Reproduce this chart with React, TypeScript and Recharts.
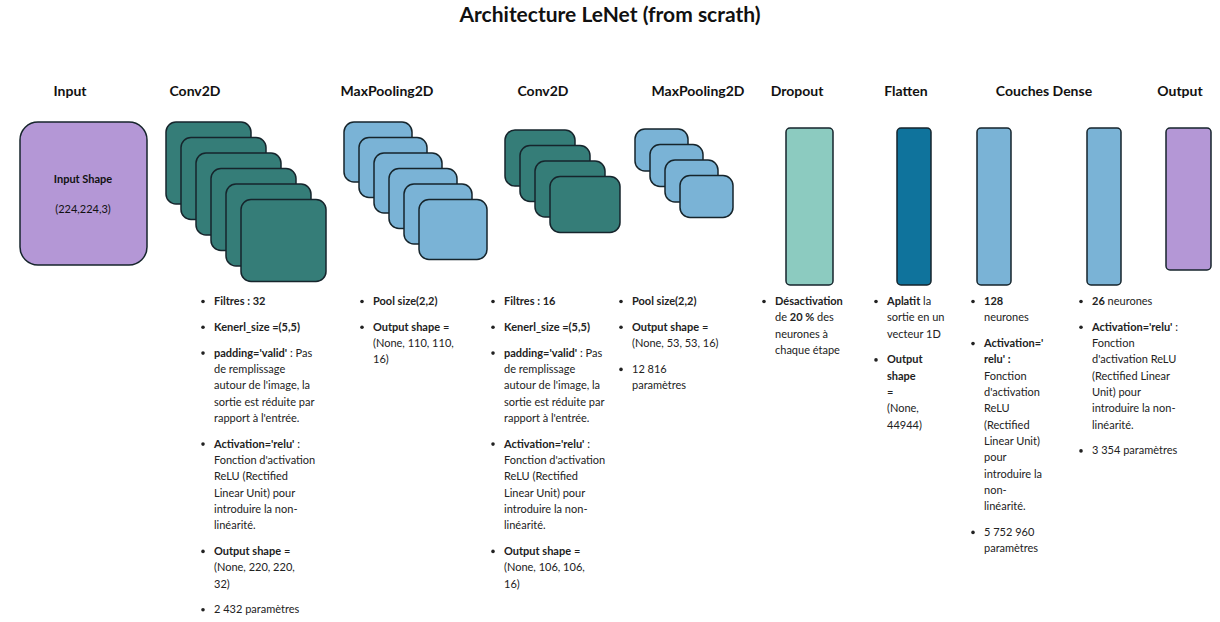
import React from 'react'
import { ComposedChart, Scatter, XAxis, YAxis } from 'recharts'

const W = 1220
const H = 622
const FONT = 'Lato, "Open Sans", sans-serif'

// layers of the network
const HEADERS = ['Input', 'Conv2D', 'MaxPooling2D', 'Conv2D', 'MaxPooling2D', 'Dropout', 'Flatten', 'Couches Dense', 'Output']
const HEADER_X = [70, 195, 387, 543, 698, 797, 906, 1044, 1180]

// stacked feature maps: [left, top, width, height, count, colour]
const STACKS: [number, number, number, number, number, string][] = [
  [166, 122, 85, 82, 6, '#357d78'],
  [344, 122, 68, 60, 6, '#7ab3d6'],
  [505, 130, 70, 56, 4, '#357d78'],
  [635, 129, 53, 42, 4, '#7ab3d6'],
]
// single blocks: [left, top, right, bottom, colour, radius]
const BLOCKS: [number, number, number, number, string, number][] = [
  [20, 122, 147, 265, '#b497d6', 18],
  [786, 128, 833, 285, '#8ccbc0', 4],
  [897, 128, 931, 285, '#0f739c', 4],
  [977, 128, 1011, 285, '#7ab3d6', 4],
  [1087, 128, 1121, 285, '#7ab3d6', 4],
  [1166, 128, 1211, 270, '#b497d6', 4],
]

// input block labels
const INPUT_TEXT = ['**Input Shape**', '(224,224,3)']

// description columns: text x, then paragraphs of lines (** marks bold)
const COLUMNS: { x: number; paras: string[][] }[] = [
  { x: 214, paras: [
    ['**Filtres : 32**'],
    ['**Kenerl_size =(5,5)**'],
    ["**padding='valid'** : Pas", 'de remplissage', "autour de l'image, la", 'sortie est réduite par', "rapport à l'entrée."],
    ["**Activation='relu'** :", "Fonction d'activation", 'ReLU (Rectified', 'Linear Unit) pour', 'introduire la non-', 'linéarité.'],
    ['**Output shape** =', '(None, 220, 220,', '32)'],
    ['2 432 paramètres'],
  ] },
  { x: 373, paras: [
    ['**Pool size(2,2)**'],
    ['**Output shape** =', '(None, 110, 110,', '16)'],
  ] },
  { x: 504, paras: [
    ['**Filtres : 16**'],
    ['**Kenerl_size =(5,5)**'],
    ["**padding='valid'** : Pas", 'de remplissage', "autour de l'image, la", 'sortie est réduite par', "rapport à l'entrée."],
    ["**Activation='relu'** :", "Fonction d'activation", 'ReLU (Rectified', 'Linear Unit) pour', 'introduire la non-', 'linéarité.'],
    ['**Output shape** =', '(None, 106, 106,', '16)'],
  ] },
  { x: 632, paras: [
    ['**Pool size(2,2)**'],
    ['**Output shape** =', '(None, 53, 53, 16)'],
    ['12 816', 'paramètres'],
  ] },
  { x: 775, paras: [
    ['**Désactivation**', 'de **20 %** des', 'neurones à', 'chaque étape'],
  ] },
  { x: 887, paras: [
    ['**Aplatit** la', 'sortie en un', 'vecteur 1D'],
    ['**Output**', '**shape**', '=', '(None,', '44944)'],
  ] },
  { x: 984, paras: [
    ['**128**', 'neurones'],
    ["**Activation='**", "**relu' :**", 'Fonction', "d'activation", 'ReLU', '(Rectified', 'Linear Unit)', 'pour', 'introduire la', 'non-', 'linéarité.'],
    ['5 752 960', 'paramètres'],
  ] },
  { x: 1092, paras: [
    ['**26** neurones'],
    ["**Activation='relu'** :", 'Fonction', "d'activation ReLU", '(Rectified Linear', 'Unit) pour', 'introduire la non-', 'linéarité.'],
    ['3 354 paramètres'],
  ] },
]

const LINE = 16.3
const GAP = 9.5
const TOP = 305

type Pt = { x: number; y: number; [k: string]: any }

const cards: Pt[] = []
STACKS.forEach(([l, t, w, h, n, c]) => {
  for (let i = 0; i < n; i++) cards.push({ x: l + i * 15, y: t + i * 15.5, w, h, c, r: 10 })
})
const blocks: Pt[] = BLOCKS.map(([l, t, r, b, c, rad]) => ({ x: l, y: t, w: r - l, h: b - t, c, r: rad }))

const lines: Pt[] = []
COLUMNS.forEach(col => {
  let y = TOP
  col.paras.forEach(p => {
    p.forEach((s, i) => {
      lines.push({ x: col.x, y, s, bullet: i === 0 })
      y += LINE
    })
    y += GAP
  })
})

const headers: Pt[] = HEADERS.map((s, i) => ({ x: HEADER_X[i], y: 96, s: `**${s}**`, size: 14 }))
headers.push({ x: 610, y: 22, s: '**Architecture LeNet (from scrath)**', size: 21 })
INPUT_TEXT.forEach((s, i) => headers.push({ x: 83, y: 183 + i * 30, s, size: 11 }))

const RectShape = (p: any) => (
  <rect x={p.cx} y={p.cy} width={p.payload.w} height={p.payload.h} rx={p.payload.r}
    fill={p.payload.c} stroke="#16252c" strokeWidth={1.5} />
)

const Rich = ({ s }: { s: string }) => (
  <>{String(s).split('**').map((t, i) => <tspan key={i} fontWeight={i % 2 ? 700 : 400}>{t}</tspan>)}</>
)

const LineShape = (p: any) => (
  <g>
    {p.payload.bullet && <circle cx={p.cx - 11} cy={p.cy - 3.5} r={1.8} fill="#222" />}
    <text x={p.cx} y={p.cy} fontFamily={FONT} fontSize={11} fill="#222"><Rich s={p.payload.s} /></text>
  </g>
)

const HeaderShape = (p: any) => (
  <text x={p.cx} y={p.cy} textAnchor="middle" fontFamily={FONT} fontSize={p.payload.size} fill="#111">
    <Rich s={p.payload.s} />
  </text>
)

export default function App() {
  return (
    <div style={{ position: 'absolute', left: 0, top: 0, background: '#fff' }}>
      <ComposedChart width={W} height={H} margin={{ top: 0, right: 0, bottom: 0, left: 0 }}>
        <XAxis type="number" dataKey="x" domain={[0, W]} hide />
        <YAxis type="number" dataKey="y" domain={[0, H]} reversed hide />
        <Scatter data={cards} shape={RectShape} isAnimationActive={false} />
        <Scatter data={blocks} shape={RectShape} isAnimationActive={false} />
        <Scatter data={headers} shape={HeaderShape} isAnimationActive={false} />
        <Scatter data={lines} shape={LineShape} isAnimationActive={false} />
      </ComposedChart>
    </div>
  )
}
